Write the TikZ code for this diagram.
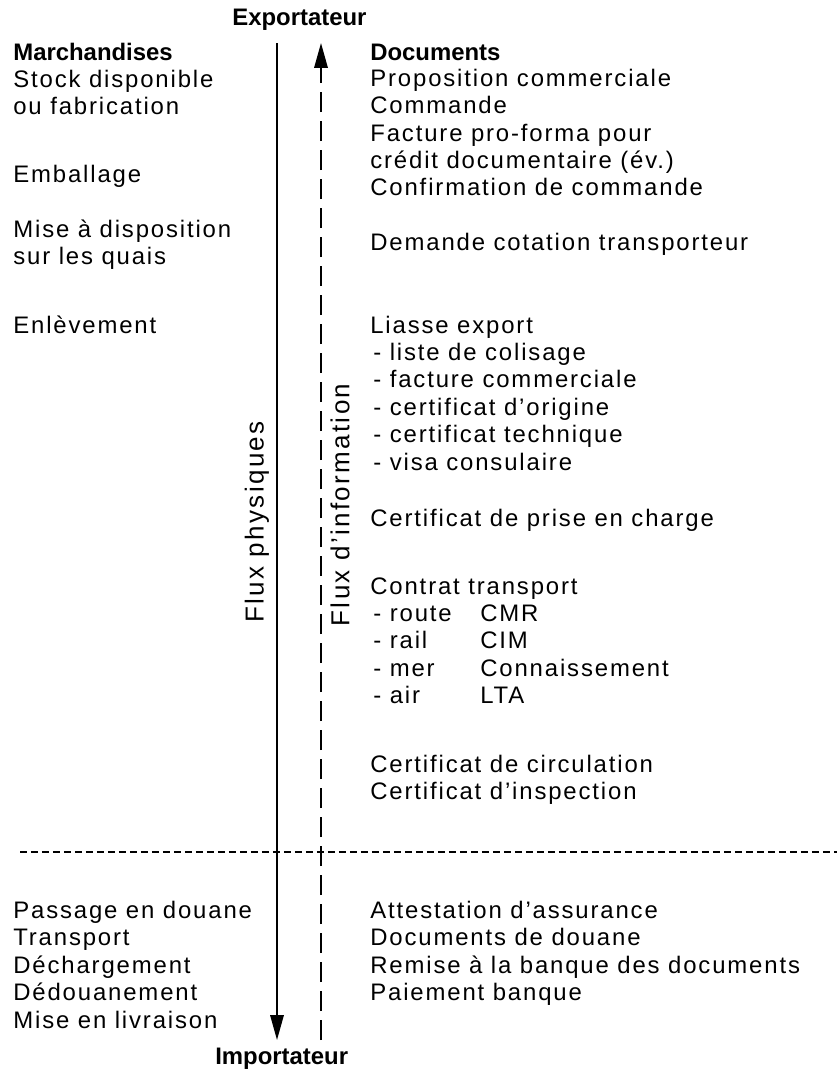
\documentclass[tikz,border=0pt]{standalone}
\usepackage{fontspec}
\setmainfont{Liberation Sans}[LetterSpace=7.8,BoldFeatures={LetterSpace=0}]
\usepackage{tikz}
\usetikzlibrary{arrows.meta}

\begin{document}
\begin{tikzpicture}[x=0.02cm,y=-0.02cm,line cap=butt,
  ligne/.style={anchor=base west,inner sep=0pt,font=\fontsize{13.6}{16}\selectfont},
  titre/.style={ligne,font=\fontsize{13.6}{16}\selectfont\bfseries},
  flux/.style={rotate=90,inner sep=0pt,font=\fontsize{14.8}{17}\selectfont\addfontfeatures{LetterSpace=9}},
  fleche/.style={line width=1pt,-{Triangle[length=0.5cm,width=0.27cm]}}]
\useasboundingbox (0,0) rectangle (837,1072);
% extremites
\node[titre] (export) at (232,25) {Exportateur};
\node[titre] (import) at (215,1064) {Importateur};
\coordinate (p-haut) at (277,43);
\coordinate (p-bas) at (277,1040);
\coordinate (i-haut) at (321,43);
\coordinate (i-bas) at (321,1040);
\draw[fleche] (p-haut) -- (p-bas);
\draw[fleche,dash pattern=on 0.4cm off 0.18cm] (i-bas) -- (i-haut);
\node[flux] (fluxp) at (257,522) {Flux physiques};
\node[flux] (fluxi) at (340,505) {Flux d’information};
% frontiere
\coordinate (f-g) at (20,852);
\coordinate (f-d) at (837,852);
\draw[line width=0.6pt,dash pattern=on 0.14cm off 0.08cm] (f-g) -- (f-d);
% marchandises
\node[titre] (march) at (13,60) {Marchandises};
\foreach \y/\t [count=\i] in {87/Stock disponible,114/ou fabrication,182/Emballage,
  237/Mise à disposition,264/sur les quais,333/Enlèvement,
  918/Passage en douane,945/Transport,973/Déchargement,1000/Dédouanement,1028/Mise en livraison}
  \node[ligne] (march-\i) at (13,\y) {\t};
% documents
\node[titre] (docs) at (370,60) {Documents};
\foreach \y/\t [count=\i] in {86/Proposition commerciale,113/Commande,141/Facture pro-forma pour,
  168/{crédit documentaire (év.)},195/Confirmation de commande,250/Demande cotation transporteur,
  333/Liasse export,526/Certificat de prise en charge,594/Contrat transport,
  772/Certificat de circulation,799/Certificat d’inspection,
  918/Attestation d’assurance,945/Documents de douane,973/Remise à la banque des documents,1000/Paiement banque}
  \node[ligne] (doc-\i) at (370,\y) {\t};
\foreach \y/\t [count=\i] in {360/liste de colisage,387/facture commerciale,415/certificat d’origine,
  442/certificat technique,470/visa consulaire}
  \node[ligne] (liasse-\i) at (373,\y) {- \t};
\foreach \y/\m/\t [count=\i] in {621/route/CMR,648/rail/CIM,676/mer/Connaissement,703/air/LTA}{
  \node[ligne] (mode-\i) at (373,\y) {- \m};
  \node[ligne] (titre-\i) at (480,\y) {\t};
}
\end{tikzpicture}
\end{document}
